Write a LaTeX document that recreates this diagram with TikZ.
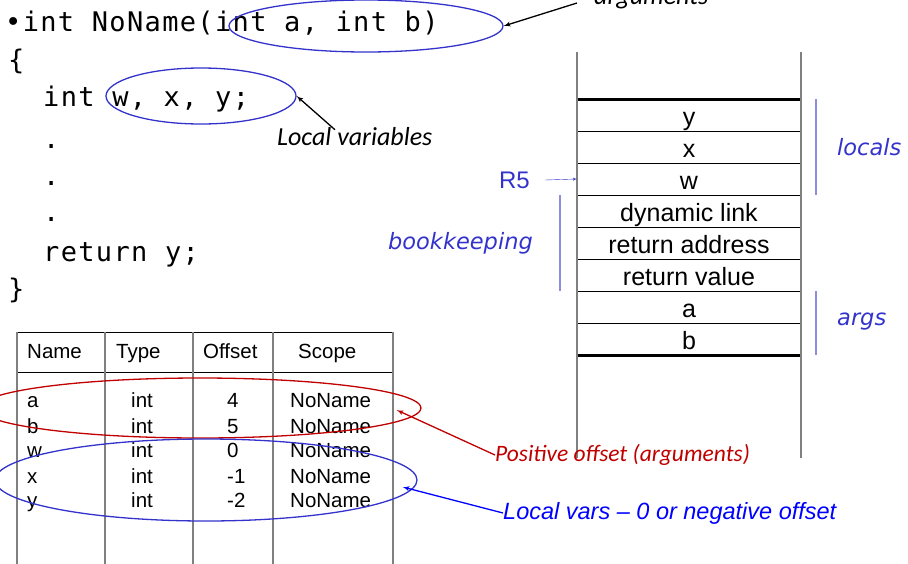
\documentclass[tikz,border=0pt]{standalone}
\usepackage{fontspec}
\setmainfont{Liberation Sans}
\newfontfamily\codefont[LetterSpace=5]{DejaVu Sans Mono}
\newfontfamily\notefont{Carlito}
\newfontfamily\sidefont{DejaVu Sans}
\usetikzlibrary{arrows,shapes.geometric,positioning}
\definecolor{lblue}{RGB}{51,51,204}
\definecolor{pblue}{RGB}{0,0,255}
\definecolor{barblue}{RGB}{140,140,225}
\definecolor{dred}{RGB}{192,0,0}
\definecolor{wall}{RGB}{128,128,128}
\tikzset{code/.style = {anchor=base west,inner sep=0pt,font=\codefont\fontsize{27}{32}\selectfont}}
\tikzset{cell/.style = {draw,minimum width=224pt,minimum height=32pt,inner sep=0pt,outer sep=0pt,text height=20pt,text depth=0pt,font=\fontsize{25}{30}\selectfont}}
\tikzset{ring/.style = {shape=ellipse,draw,line width=1.3pt,inner sep=0pt}}
\tikzset{tab/.style = {anchor=base west,inner sep=0pt,font=\fontsize{20.5}{24}\selectfont}}
\tikzset{note/.style = {inner sep=0pt,font=\notefont\itshape\fontsize{26}{30}\selectfont}}
\tikzset{side/.style = {inner sep=0pt,text=lblue,font=\sidefont\itshape\fontsize{22.5}{27}\selectfont}}
\tikzset{edge/.style = {->,> = latex',line width=1.3pt}}

\begin{document}
\begin{tikzpicture}[x=1pt,y=-1pt]
  \useasboundingbox (0,0) rectangle (908,563);

  % the function
  \node[code] (l1) at (5,31) {•int NoName(int a, int b)};
  \node[code] (l2) at (8,69) {\{};
  \node[code] (l3) at (43,106) {int w, x, y;};
  \node[code] (l4) at (43,148) {.};
  \node[code] (l5) at (43,185) {.};
  \node[code] (l6) at (43,221) {.};
  \node[code] (l7) at (43,261) {return y;};
  \node[code] (l8) at (8,298) {\}};

  \node[ring,draw=lblue,minimum width=274pt,minimum height=52pt] (argring) at (366,26) {};
  \node[ring,draw=lblue,minimum width=190pt,minimum height=56pt] (locring) at (201,96) {};
  \node[note,anchor=base west] (argnote) at (594,4) {arguments};
  \node[note,anchor=base west] (locnote) at (277,145) {Local variables};
  \path[edge] ([xshift=-17pt,yshift=1pt]argnote.base west) edge (argring.east);
  \path[edge] ([xshift=58pt,yshift=-3pt]locnote.north west) edge (locring.east);

  % the frame
  \node[cell] (sy) at (689,115) {y};
  \node[cell,below=0pt of sy] (sx) {x};
  \node[cell,below=0pt of sx] (sw) {w};
  \node[cell,below=0pt of sw] (sdl) {dynamic link};
  \node[cell,below=0pt of sdl] (sra) {return address};
  \node[cell,below=0pt of sra] (srv) {return value};
  \node[cell,below=0pt of srv] (sa) {a};
  \node[cell,below=0pt of sa] (sb) {b};
  \draw[line width=3pt] (sy.north west) -- (sy.north east);
  \draw[line width=3pt] (sb.south west) -- (sb.south east);
  \draw[wall,line width=2pt] ([yshift=47pt]sy.north west) -- ([yshift=-103pt]sb.south west);
  \draw[wall,line width=2pt] ([yshift=47pt]sy.north east) -- ([yshift=-103pt]sb.south east);

  \draw[barblue,line width=1.5pt] ([xshift=15pt]sy.north east) -- ([xshift=15pt]sw.south east);
  \draw[barblue,line width=1.5pt] ([xshift=15pt]sa.north east) -- ([xshift=15pt]sb.south east);
  \draw[barblue,line width=1.5pt] ([xshift=-17pt]sdl.north west) -- ([xshift=-17pt]srv.south west);
  \node[side,anchor=west] (locals) at (837,147) {locals};
  \node[side,anchor=west] (args) at (837,322) {args};
  \node[side,anchor=east] (keep) at (533,243) {bookkeeping};
  \node[anchor=east,inner sep=0pt,text=lblue,font=\fontsize{24}{28}\selectfont] (rfive) at (530,180) {R5};
  \path[->,> = latex',lblue,thin] ([xshift=15pt]rfive.east) edge (sw.west);

  % symbol table
  \draw (17,332) -- (393,332);
  \draw (17,372) -- (393,372);
  \foreach \x in {17,105,193,273,393}
    \draw[wall,line width=2pt] (\x,332) -- (\x,570);
  \node[tab] (hname) at (27,358) {Name};
  \node[tab] (htype) at (116,358) {Type};
  \node[tab] (hoff) at (203,358) {Offset};
  \node[tab] (hscope) at (298,358) {Scope};
  \foreach \n/\o/\y in {a/4/407,b/5/433,w/0/457,x/-1/483,y/-2/507} {
    \node[tab] (n-\n) at (27,\y) {\n};
    \node[tab] (t-\n) at (131,\y) {int};
    \node[tab] (o-\n) at (227,\y) {\o};
    \node[tab] (s-\n) at (290,\y) {NoName};
  }

  \node[ring,draw=dred,minimum width=442pt,minimum height=60pt] (argrow) at (200,408) {};
  \node[ring,draw=lblue,minimum width=422pt,minimum height=82pt] (locrow) at (206,480) {};
  \node[note,anchor=west,text=dred,font=\notefont\itshape\fontsize{23.5}{28}\selectfont] (posnote) at (495,455) {Positive offset (arguments)};
  \node[anchor=west,inner sep=0pt,text=pblue,font=\itshape\fontsize{23.5}{28}\selectfont] (negnote) at (503,513) {Local vars – 0 or negative offset};
  \path[edge,dred] (posnote.west) edge ([xshift=-25pt,yshift=-2pt]argrow.east);
  \path[edge,pblue] (negnote.west) edge ([xshift=-15pt,yshift=-7pt]locrow.east);
\end{tikzpicture}
\end{document}
